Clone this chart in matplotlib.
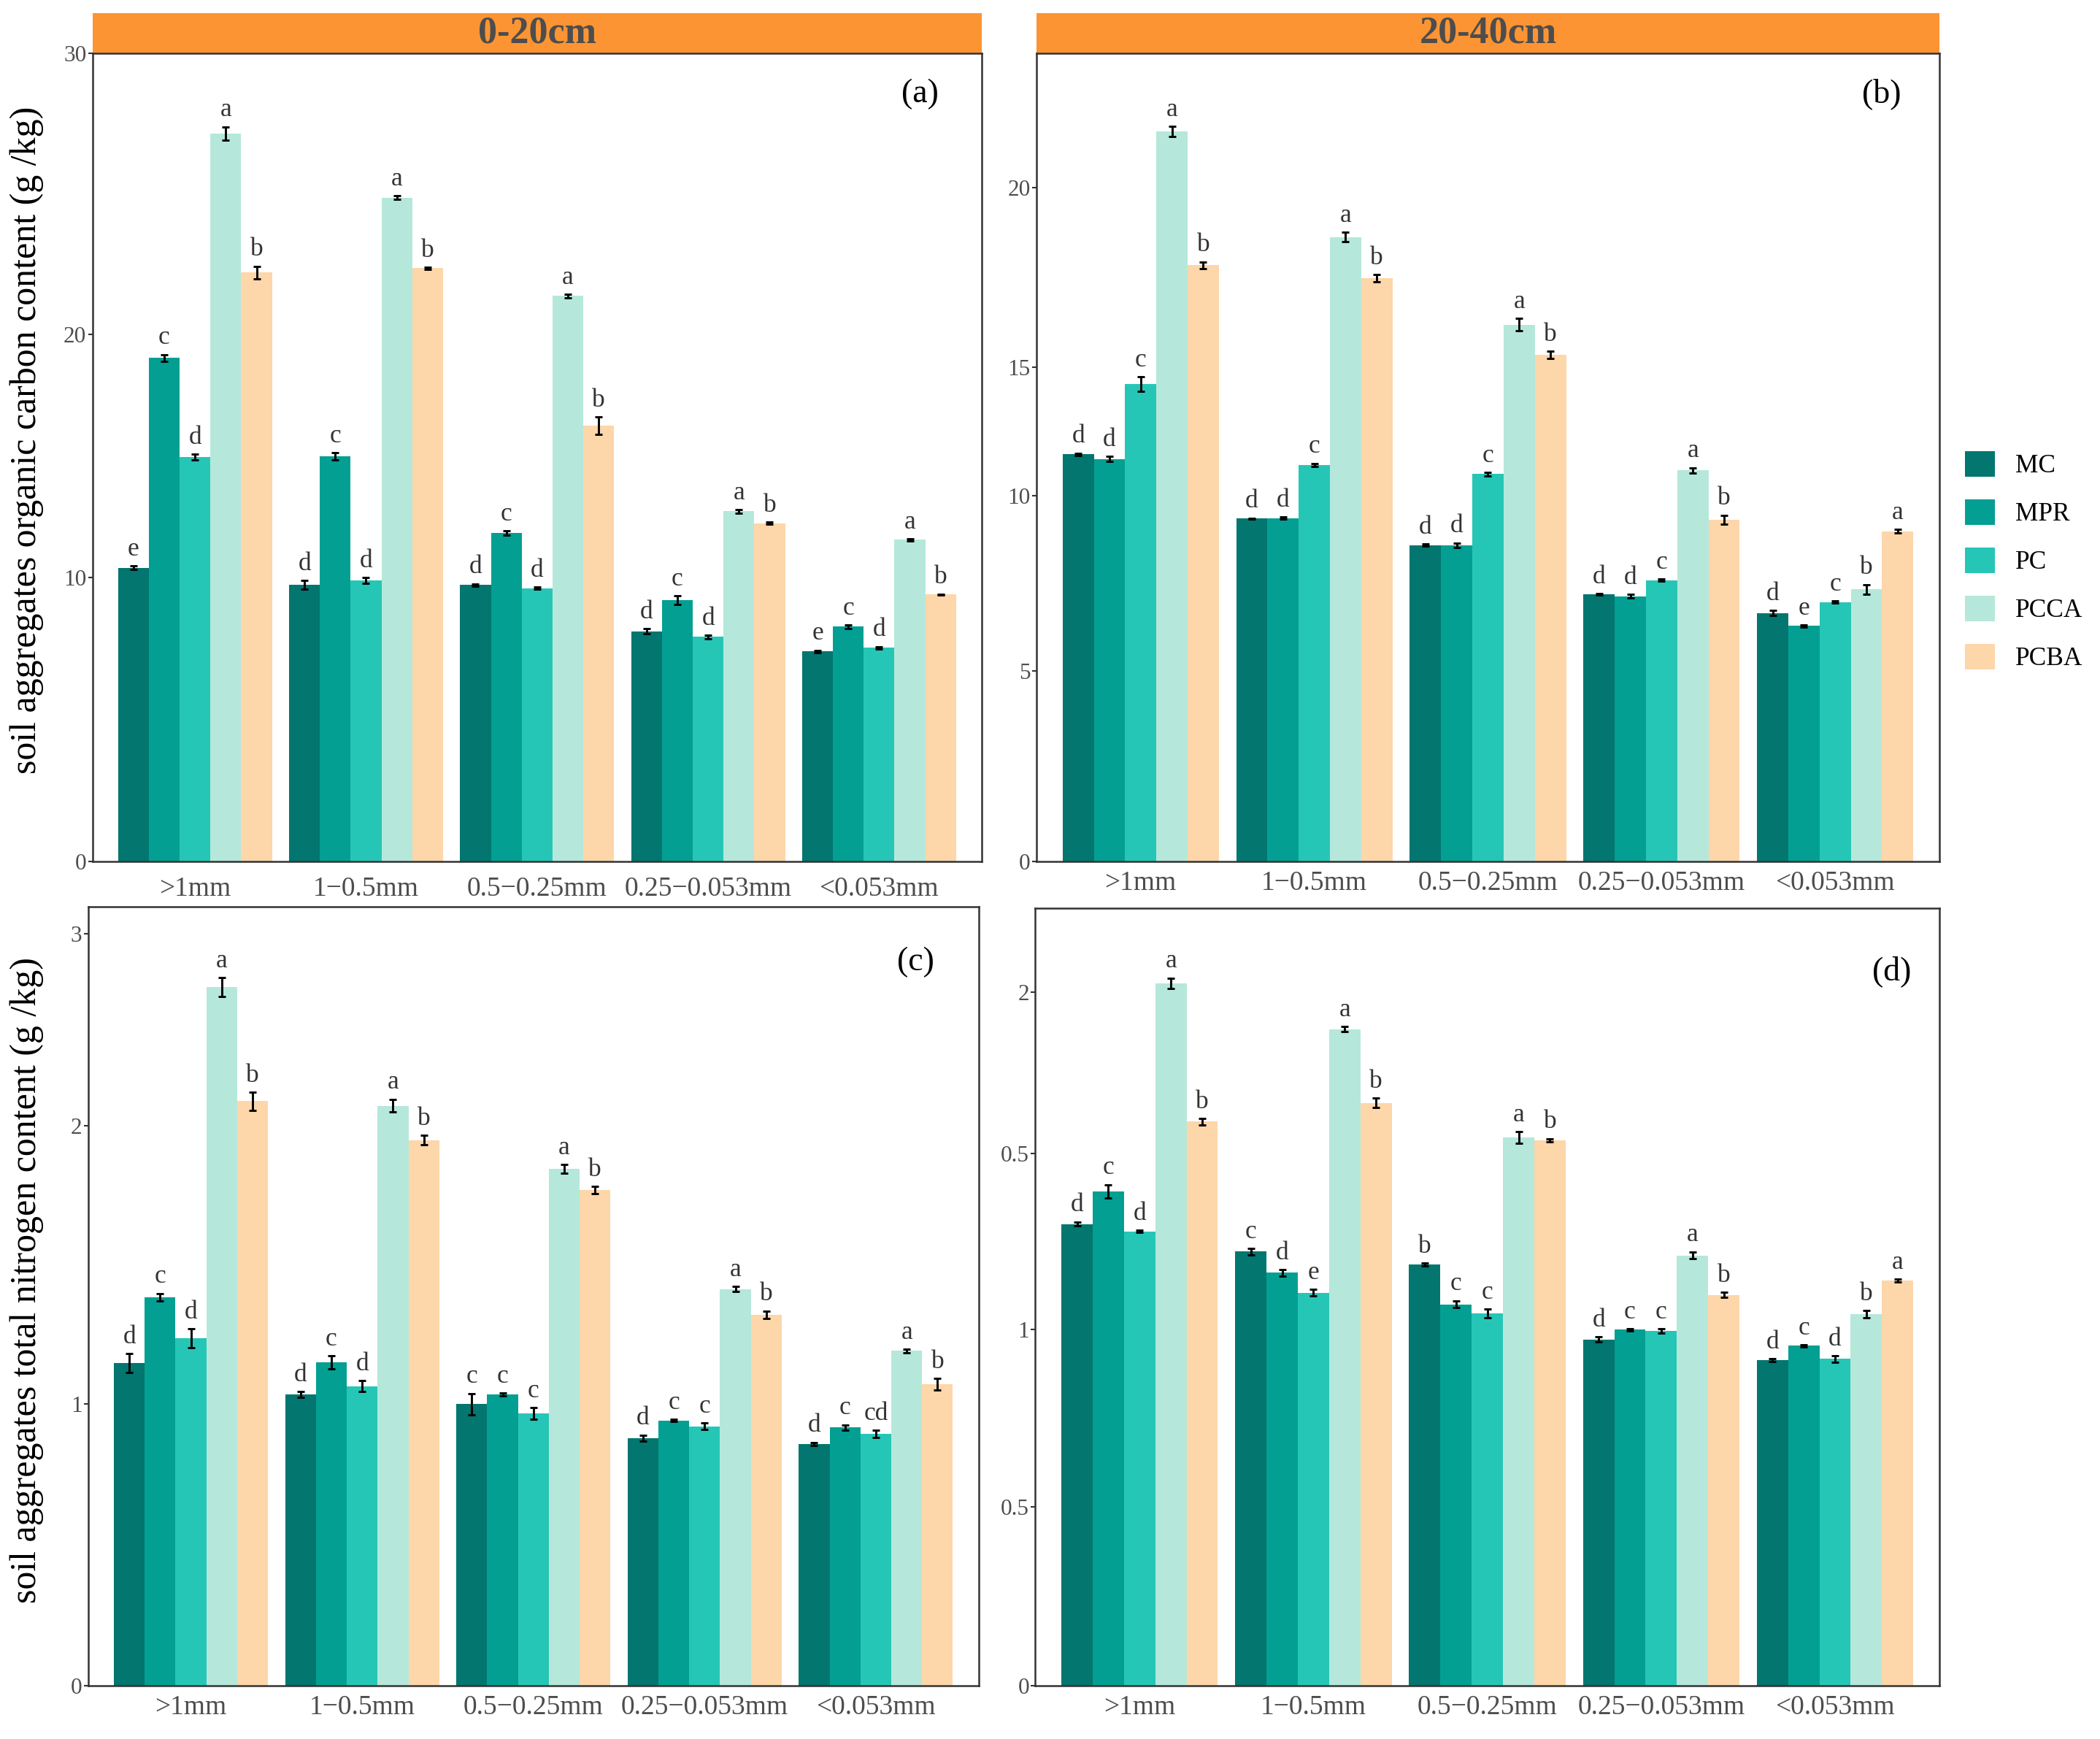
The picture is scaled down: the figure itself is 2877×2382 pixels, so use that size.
import matplotlib.pyplot as plt
import numpy as np
from matplotlib.patches import Patch, Rectangle

plt.rcParams['font.family'] = ['Liberation Serif', 'DejaVu Serif']

#categories and groups
sizes = ['>1mm', '1\u22120.5mm', '0.5\u22120.25mm', '0.25\u22120.053mm', '<0.053mm']
treatments = ['MC', 'MPR', 'PC', 'PCCA', 'PCBA']
colors = ['#02766F', '#039F93', '#26C6B7', '#B5E8DA', '#FDD6AA']

#(a) SOC 0-20cm, one row per treatment
soc_top = [[10.34, 9.74, 9.74, 8.11, 7.40],
           [17.73, 14.27, 11.57, 9.20, 8.27],
           [14.25, 9.90, 9.62, 7.91, 7.53],
           [25.63, 23.38, 19.92, 12.33, 11.33],
           [20.74, 20.89, 15.35, 11.91, 9.40]]
soc_top_err = [[0.06, 0.16, 0.04, 0.08, 0.04],
               [0.12, 0.12, 0.08, 0.16, 0.06],
               [0.10, 0.10, 0.04, 0.06, 0.04],
               [0.24, 0.06, 0.06, 0.06, 0.04],
               [0.22, 0.04, 0.30, 0.04, 0.02]]
soc_top_sig = [['e', 'd', 'd', 'd', 'e'],
               ['c', 'c', 'c', 'c', 'c'],
               ['d', 'd', 'd', 'd', 'd'],
               ['a', 'a', 'a', 'a', 'a'],
               ['b', 'b', 'b', 'b', 'b']]

#(b) SOC 20-40cm
soc_sub = [[10.70, 9.01, 8.31, 7.02, 6.53],
           [10.58, 9.02, 8.31, 6.97, 6.19],
           [12.54, 10.42, 10.18, 7.39, 6.82],
           [19.18, 16.41, 14.11, 10.28, 7.15],
           [15.67, 15.33, 13.31, 8.98, 8.68]]
soc_sub_err = [[0.03, 0.015, 0.03, 0.015, 0.07],
               [0.07, 0.03, 0.06, 0.045, 0.03],
               [0.19, 0.045, 0.045, 0.03, 0.03],
               [0.13, 0.12, 0.16, 0.07, 0.13],
               [0.09, 0.09, 0.10, 0.12, 0.045]]
soc_sub_sig = [['d', 'd', 'd', 'd', 'd'],
               ['d', 'd', 'd', 'd', 'e'],
               ['c', 'c', 'c', 'c', 'c'],
               ['a', 'a', 'a', 'a', 'b'],
               ['b', 'b', 'b', 'b', 'a']]

#(c) TN 0-20cm
tn_top = [[1.146, 1.034, 1.000, 0.879, 0.858],
          [1.380, 1.149, 1.034, 0.941, 0.917],
          [1.233, 1.064, 0.966, 0.921, 0.894],
          [2.482, 2.060, 1.836, 1.408, 1.189],
          [2.076, 1.938, 1.760, 1.318, 1.070]]
tn_top_err = [[0.034, 0.010, 0.038, 0.011, 0.006],
              [0.013, 0.023, 0.006, 0.004, 0.009],
              [0.034, 0.019, 0.021, 0.011, 0.013],
              [0.034, 0.023, 0.015, 0.009, 0.006],
              [0.032, 0.017, 0.013, 0.013, 0.021]]
tn_top_sig = [['d', 'd', 'c', 'd', 'd'],
              ['c', 'c', 'c', 'c', 'c'],
              ['d', 'd', 'c', 'c', 'cd'],
              ['a', 'a', 'a', 'a', 'a'],
              ['b', 'b', 'b', 'b', 'b']]

#(d) TN 20-40cm
tn_sub = [[1.293, 1.216, 1.180, 0.969, 0.911],
          [1.384, 1.156, 1.068, 0.997, 0.952],
          [1.272, 1.100, 1.043, 0.994, 0.915],
          [1.967, 1.839, 1.536, 1.205, 1.040],
          [1.580, 1.632, 1.528, 1.094, 1.134]]
tn_sub_err = [[0.006, 0.009, 0.004, 0.007, 0.004],
              [0.019, 0.009, 0.010, 0.003, 0.003],
              [0.003, 0.009, 0.012, 0.006, 0.009],
              [0.015, 0.007, 0.016, 0.010, 0.010],
              [0.009, 0.013, 0.004, 0.007, 0.004]]
tn_sub_sig = [['d', 'c', 'b', 'd', 'd'],
              ['c', 'd', 'c', 'c', 'c'],
              ['d', 'e', 'c', 'c', 'd'],
              ['a', 'a', 'a', 'a', 'b'],
              ['b', 'b', 'b', 'b', 'a']]

#y tick labels as printed in the original figure
yticks_a = ([0, 10, 18.55, 28.45], ['0', '10', '20', '30'])
yticks_b = ([0, 5, 9.61, 12.98, 17.70], ['0', '5', '10', '15', '20'])
yticks_c = ([0, 1, 1.99, 2.67], ['0', '1', '2', '3'])
yticks_d = ([0, 0.5, 0.998, 1.49, 1.943], ['0', '0.5', '1', '0.5', '2'])

fig = plt.figure(figsize=(9.59, 7.94), dpi=300)

panels = [
    # rect, values, err, letters, ylim, yticks, tag, tag pos, strip, xlabel pad
    ([0.044, 0.5046, 0.4235, 0.4646], soc_top, soc_top_err, soc_top_sig, 28.45, yticks_a, '(a)', (0.931, 0.95), '0-20cm', 5),
    ([0.4936, 0.5046, 0.4299, 0.4646], soc_sub, soc_sub_err, soc_sub_sig, 21.23, yticks_b, '(b)', (0.936, 0.95), '20-40cm', 3),
    ([0.042, 0.0308, 0.424, 0.4476], tn_top, tn_top_err, tn_top_sig, 2.766, yticks_c, '(c)', (0.929, 0.929), None, 3),
    ([0.493, 0.0308, 0.4305, 0.4468], tn_sub, tn_sub_err, tn_sub_sig, 2.177, yticks_d, '(d)', (0.947, 0.919), None, 3),
]

x = np.arange(1, len(sizes) + 1)
w = 0.18

for rect, vals, errs, sigs, ytop, yt, tag, tagpos, strip, xpad in panels:
    ax = fig.add_axes(rect)
    for i, t in enumerate(treatments):
        xs = x + (i - 2) * w
        ax.bar(xs, vals[i], width=w, color=colors[i], linewidth=0)
        ax.errorbar(xs, vals[i], yerr=errs[i], fmt='none', ecolor='black',
                    elinewidth=0.7, capsize=1.3, capthick=0.7)
        for xi, v, e, s in zip(xs, vals[i], errs[i], sigs[i]):
            ax.annotate(s, (xi, v + e), xytext=(0, 1.5), textcoords='offset points',
                        ha='center', va='bottom', fontsize=8.5, color='#333333')
    ax.set_xlim(0.4, 5.6)
    ax.set_ylim(0, ytop)
    ax.set_xticks(x)
    ax.set_xticklabels(sizes, fontsize=9, color='#4D4D4D')
    ax.set_yticks(yt[0])
    ax.set_yticklabels(yt[1], fontsize=7.5, color='#4D4D4D')
    ax.tick_params(axis='x', length=0, pad=xpad)
    ax.tick_params(axis='y', length=1.5, width=0.5, color='#333333', pad=0.5)
    for sp in ax.spines.values():
        sp.set_color('#333333')
        sp.set_linewidth(0.6)
    ax.text(tagpos[0], tagpos[1], tag, transform=ax.transAxes, ha='center', va='center', fontsize=11)
    if strip:
        ax.add_patch(Rectangle((0, 1), 1, 0.0498, transform=ax.transAxes, facecolor='#FD9434',
                               edgecolor='none', clip_on=False))
        ax.text(0.5, 1.0249, strip, transform=ax.transAxes, ha='center', va='center',
                fontsize=12.5, fontweight='bold', color='#4D4D4D')

#axis titles
fig.text(0.0128, 0.747, 'soil aggregates organic carbon content (g /kg)', rotation=90,
         ha='center', va='center', fontsize=12)
fig.text(0.0128, 0.264, 'soil aggregates total nitrogen content (g /kg)', rotation=90,
         ha='center', va='center', fontsize=12)

#legend
handles = [Patch(facecolor=c, edgecolor='none', label=t) for c, t in zip(colors, treatments)]
fig.legend(handles=handles, loc='upper left', bbox_to_anchor=(0.9357, 0.7406), frameon=False,
           fontsize=8.5, handlelength=1.15, handleheight=1.15, labelspacing=0.8,
           handletextpad=0.8, borderpad=0, borderaxespad=0)

plt.savefig('out.png', dpi=300)
plt.close()
